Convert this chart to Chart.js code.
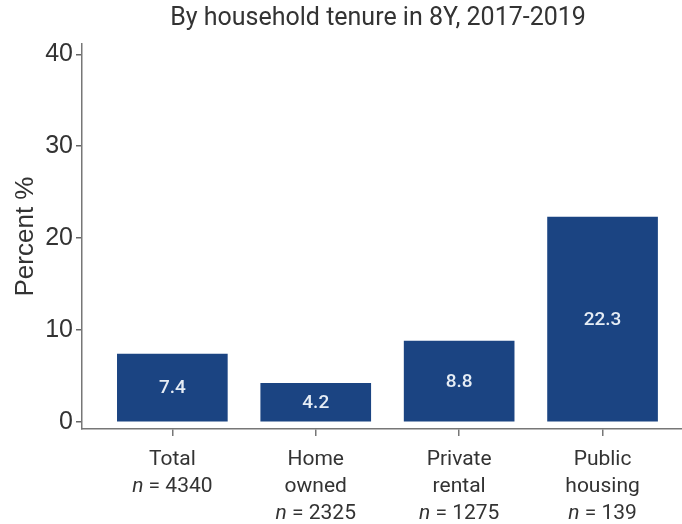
<!DOCTYPE html>
<html>
<head>
<meta charset="utf-8">
<script src="https://cdn.jsdelivr.net/npm/chart.js@4.4.0/dist/chart.umd.min.js"></script>
<style>
  html, body { margin: 0; padding: 0; background: #fff; }
  #wrap { width: 682px; height: 524px; }
</style>
</head>
<body>
<div id="wrap"><canvas id="tenureChart"></canvas></div>
<script>
// chart data
const categories = [['Total'], ['Home', 'owned'], ['Private', 'rental'], ['Public', 'housing']];
const sampleSizes = [4340, 2325, 1275, 139];
const percentValues = [7.4, 4.2, 8.8, 22.3];
const yTickValues = [0, 10, 20, 30, 40];
const chartTitle = 'By household tenure in 8Y, 2017-2019';

// title, value labels inside bars and the two-part x labels (italic n)
const textPlugin = {
  id: 'textPlugin',
  afterDraw(chart) {
    const ctx = chart.ctx;
    const area = chart.chartArea;
    const xScale = chart.scales.x;
    ctx.save();

    ctx.fillStyle = '#333';
    ctx.font = '25px Roboto';
    ctx.textAlign = 'center';
    ctx.textBaseline = 'middle';
    ctx.fillText(chartTitle, (area.left + area.right) / 2 - 4, 19);

    const meta = chart.getDatasetMeta(0);
    ctx.font = '500 19px Roboto';
    ctx.fillStyle = '#e6edf5';
    meta.data.forEach(function(bar, i) {
      ctx.fillText(percentValues[i].toFixed(1), bar.x, (bar.y + bar.base) / 2 + 1);
    });

    ctx.fillStyle = '#333';
    categories.forEach(function(lines, i) {
      const cx = xScale.getPixelForValue(i);
      let y = 460;
      ctx.textAlign = 'center';
      ctx.font = '21px Roboto';
      lines.forEach(function(line) {
        ctx.fillText(line, cx, y);
        y += 27;
      });
      const rest = ' = ' + sampleSizes[i];
      ctx.font = 'italic 21px Roboto';
      const wN = ctx.measureText('n').width;
      ctx.font = '21px Roboto';
      const wRest = ctx.measureText(rest).width;
      const start = cx - (wN + wRest) / 2;
      ctx.textAlign = 'left';
      ctx.font = 'italic 21px Roboto';
      ctx.fillText('n', start, y);
      ctx.font = '21px Roboto';
      ctx.fillText(rest, start + wN, y);
    });
    ctx.restore();
  }
};

document.addEventListener('DOMContentLoaded', function() {
  const ctx = document.getElementById('tenureChart').getContext('2d');
  new Chart(ctx, {
    type: 'bar',
    data: {
      datasets: [{
        label: 'Percent',
        data: percentValues.map(function(v, i) { return { x: i, y: v }; }),
        backgroundColor: '#1b4482',
        borderWidth: 0,
        barThickness: 110
      }]
    },
    options: {
      responsive: true,
      maintainAspectRatio: false,
      animation: false,
      layout: { padding: { top: 44, left: 0, right: 0, bottom: 0 } },
      plugins: {
        legend: { display: false },
        tooltip: { enabled: false },
        title: { display: false }
      },
      scales: {
        x: {
          type: 'linear',
          offset: false,
          min: -0.63,
          max: 3.554,
          afterBuildTicks: function(scale) {
            scale.ticks = categories.map(function(c, i) { return { value: i }; });
          },
          afterFit: function(scale) { scale.height = 95; },
          ticks: { display: false },
          grid: { offset: false, drawOnChartArea: false, drawTicks: true, tickLength: 7, color: '#777', lineWidth: 1.5 },
          border: { display: true, color: '#777', width: 1.5 }
        },
        y: {
          min: -0.76,
          max: 41.12,
          afterBuildTicks: function(scale) {
            scale.ticks = yTickValues.map(function(v) { return { value: v }; });
          },
          afterFit: function(scale) { scale.width = 82; },
          ticks: { font: { family: 'Liberation Sans', size: 25 }, color: '#333', padding: 3 },
          grid: { drawOnChartArea: false, drawTicks: true, tickLength: 6, color: '#666', lineWidth: 1.5 },
          border: { display: true, color: '#777', width: 1.5 },
          title: {
            display: true,
            text: 'Percent %',
            font: { family: 'Liberation Sans', size: 26 },
            color: '#333',
            padding: { top: 10, bottom: 0 }
          }
        }
      }
    },
    plugins: [textPlugin]
  });
});
</script>
</body>
</html>
